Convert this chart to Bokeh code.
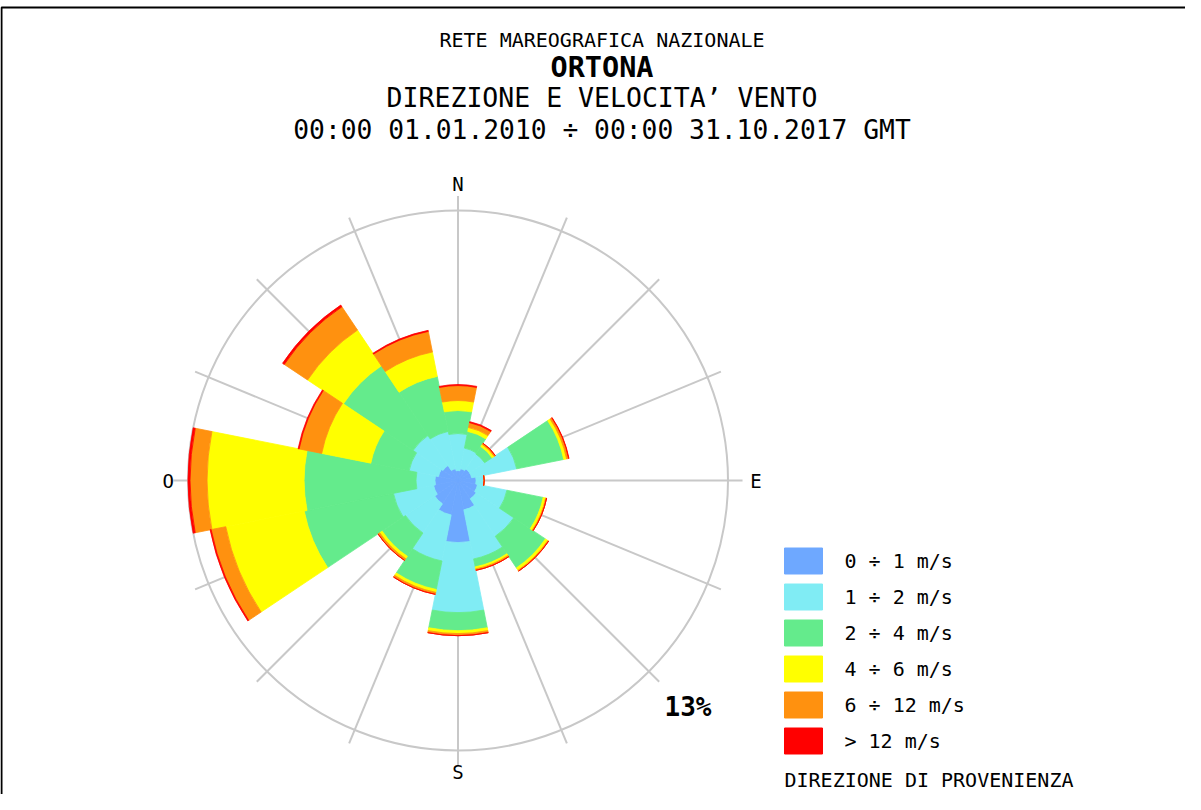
import numpy as np
from bokeh.plotting import figure
from bokeh.models import Range1d, Label, ColumnDataSource
from bokeh.core.properties import value
from bokeh.embed import file_html
from bokeh.resources import INLINE

# ---------------- data (percent of observations) ----------------
directions = ["N", "NNE", "NE", "ENE", "E", "ESE", "SE", "SSE",
              "S", "SSW", "SW", "WSW", "W", "WNW", "NW", "NNW"]
bearings = [0.0, 22.5, 45.0, 67.5, 90.0, 112.5, 135.0, 157.5,
            180.0, 202.5, 225.0, 247.5, 270.0, 292.5, 315.0, 337.5]

speed_classes = ["0 \u00f7 1 m/s", "1 \u00f7 2 m/s", "2 \u00f7 4 m/s",
                 "4 \u00f7 6 m/s", "6 \u00f7 12 m/s", "> 12 m/s"]

freq_0_1  = [0.48, 0.58, 0.67, 0.67, 0.87, 0.96, 1.06, 1.44, 2.99, 1.69, 1.35, 1.20, 1.11, 0.96, 0.87, 0.58]
freq_1_2  = [1.78, 1.01, 0.87, 2.21, 0.39, 1.44, 2.17, 2.41, 3.37, 2.26, 1.69, 1.97, 0.91, 1.44, 1.73, 1.83]
freq_2_4  = [1.11, 0.82, 0.43, 2.31, 0.00, 1.78, 1.83, 0.39, 0.87, 1.40, 1.35, 4.38, 5.39, 1.88, 4.04, 2.70]
freq_4_6  = [0.48, 0.19, 0.12, 0.14, 0.00, 0.12, 0.14, 0.10, 0.14, 0.14, 0.14, 3.85, 4.67, 2.41, 2.07, 1.20]
freq_6_12 = [0.72, 0.24, 0.07, 0.10, 0.00, 0.05, 0.05, 0.07, 0.10, 0.10, 0.10, 0.72, 0.82, 1.11, 1.35, 1.01]
freq_gt12 = [0.05, 0.05, 0.00, 0.02, 0.00, 0.00, 0.00, 0.00, 0.00, 0.00, 0.00, 0.05, 0.10, 0.05, 0.10, 0.05]

scale_max = 13.0          # outer circle, percent
compass_labels = ["N", "E", "S", "O"]
compass_bearings = [0.0, 90.0, 180.0, 270.0]

title_lines = ["RETE MAREOGRAFICA NAZIONALE", "ORTONA",
               "DIREZIONE E VELOCITA\u2019 VENTO",
               "00:00 01.01.2010 \u00f7 00:00 31.10.2017 GMT"]
legend_title = "DIREZIONE DI PROVENIENZA"

# ---------------- styles ----------------
colors = ["#6EA8FF", "#80ECF4", "#64EB8C", "#FFFF00", "#FF910F", "#FF0000"]
grid_color = "#C8C8C8"
MONO = "DejaVu Sans Mono"

W, H = 1185, 794
k = 270.0 / scale_max           # pixels per percent
cx, cy = 457.5, 480.0           # centre of rose in figure pixels (from top-left)

def sx(px):  # page pixel -> data x
    return (px - 8 - cx) / k

def sy(py):  # page pixel -> data y
    return (cy - (py - 8)) / k

p = figure(width=W, height=H,
           x_range=Range1d(-cx / k, (W - cx) / k),
           y_range=Range1d(-(H - cy) / k, cy / k),
           x_axis_type=None, y_axis_type=None,
           output_backend="svg", toolbar_location=None,
           min_border=0, outline_line_color=None,
           background_fill_color="white", border_fill_color="white")

# frame (top and left edges visible in window)
p.line([sx(9), sx(9), sx(1400)], [sy(1000), sy(15), sy(15)],
       line_color="black", line_width=2)

# spokes and outer circle
b = np.radians(np.array(bearings))
spoke_len = 13.7
p.segment(x0=np.zeros(16), y0=np.zeros(16),
          x1=spoke_len * np.sin(b), y1=spoke_len * np.cos(b),
          line_color=grid_color, line_width=2)
p.circle(x=[0], y=[0], radius=scale_max, fill_color=None,
         line_color=grid_color, line_width=2)

# stacked wedges
series = [freq_0_1, freq_1_2, freq_2_4, freq_4_6, freq_6_12, freq_gt12]
half = 11.25
theta = 90.0 - np.array(bearings)
start = np.radians(theta - half)
end = np.radians(theta + half)
inner = np.zeros(16)
for vals, col in zip(series, colors):
    outer = inner + np.array(vals)
    src = ColumnDataSource(dict(inner=inner, outer=outer, start=start, end=end,
                                x=np.zeros(16), y=np.zeros(16)))
    p.annular_wedge(x="x", y="y", inner_radius="inner", outer_radius="outer",
                    start_angle="start", end_angle="end", direction="anticlock",
                    fill_color=col, line_color=col, line_width=0.8, source=src)
    inner = outer

# compass labels
lab_r = np.array([14.3, 14.35, 14.05, 13.95])
cb = np.radians(np.array(compass_bearings))
p.text(x=lab_r * np.sin(cb), y=lab_r * np.cos(cb), text=compass_labels,
       text_font=value(MONO), text_font_size=value("19px"),
       text_align="center", text_baseline="middle", text_color="black")

# titles
title_specs = [(47, "20px", "normal"), (75, "28.5px", "bold"),
               (105, "26.5px", "normal"), (137, "26.3px", "normal")]
for txt, (ypx, fs, st) in zip(title_lines, title_specs):
    p.add_layout(Label(x=sx(609.5), y=sy(ypx), text=txt, text_align="center",
                       text_baseline="middle", text_font=MONO,
                       text_font_size=fs, text_font_style=st, text_color="black"))

# scale label
p.add_layout(Label(x=sx(672), y=sy(714), text=f"{scale_max:.0f}%", text_align="left",
                   text_baseline="middle", text_font=MONO, text_font_size="26px",
                   text_font_style="bold", text_color="black"))

# legend (swatches + labels)
n = len(speed_classes)
row_centres = [568.5 + 36 * i for i in range(n)]
leg = ColumnDataSource(dict(
    x=[sx(811)] * n,
    y=[sy(c) for c in row_centres],
    tx=[sx(852)] * n,
    label=speed_classes,
    color=colors,
))
p.rect(x="x", y="y", width=38 / k, height=26 / k, fill_color="color",
       line_color="color", line_width=1, source=leg)
p.text(x="tx", y="y", text="label", source=leg,
       text_font=value(MONO), text_font_size=value("20px"),
       text_align="left", text_baseline="middle", text_color="black")

p.add_layout(Label(x=sx(792), y=sy(787), text=legend_title, text_align="left",
                   text_baseline="middle", text_font=MONO, text_font_size="20px",
                   text_color="black"))

open("out.html", "w").write(file_html(p, INLINE))
